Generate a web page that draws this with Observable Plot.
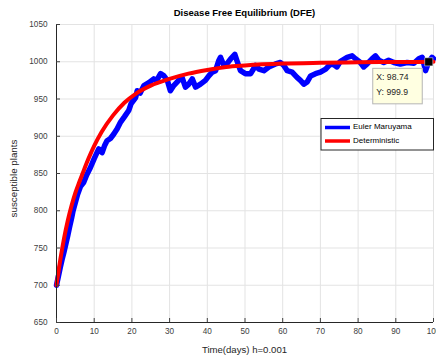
<!DOCTYPE html>
<html><head><meta charset="utf-8">
<script src="https://cdn.jsdelivr.net/npm/d3@7"></script>
<script src="https://cdn.jsdelivr.net/npm/@observablehq/plot@0.6"></script>
<style>body{margin:0;background:#fff;} #chart{width:436px;height:360px;}</style>
</head><body><div id="chart"></div>
<script>
(function () {
const title = "Disease Free Equilibrium (DFE)";
const xLabel = "Time(days) h=0.001";
const yLabel = "susceptible plants";
const seriesNames = ["Euler Maruyama", "Deterministic"];
const xTicks = [0, 10, 20, 30, 40, 50, 60, 70, 80, 90, 100];
const yTicks = [650, 700, 750, 800, 850, 900, 950, 1000, 1050];

// Euler Maruyama (stochastic) path
const emTime = [0, 0.5, 1, 1.5, 2, 2.5, 3, 3.5, 4, 4.4, 5, 5.6, 6.4, 7.2, 8, 9, 10, 11.2, 12.1, 12.8, 13.4, 14.3, 15.2, 16.1, 17, 18, 19.2, 19.8, 21, 21.4, 22.2, 23.2, 24.5, 25.8, 26.6, 27.6, 28.5, 29.4, 30.2, 31.1, 32.4, 33.3, 34.2, 35.1, 36, 36.9, 38.2, 39.5, 40.4, 41.3, 42.2, 43, 43.5, 44.4, 45.2, 46.2, 47.3, 47.9, 48.8, 50.1, 51.5, 52.8, 53.7, 55, 56.3, 58.1, 59.4, 60.3, 61.2, 62.5, 63.8, 64.7, 65.6, 66.5, 67.4, 68.7, 70, 71.4, 72.7, 73.6, 74.4, 75.2, 75.8, 77.1, 78.4, 79.3, 80.6, 81.5, 82.4, 83.7, 84.6, 85.5, 86.8, 88.1, 89.5, 91.2, 93, 94.8, 96.1, 97, 97.9, 98.74, 99.6, 100];
const emValue = [700, 712, 724, 735, 745, 756, 767, 779, 790, 800, 811, 822, 833, 838, 848, 858, 870, 883, 878, 888, 894, 897, 903, 910, 919, 926, 935, 944, 952, 961, 958, 968, 972, 977, 975, 984, 981, 975, 961, 968, 975, 979, 966, 970, 977, 966, 970, 975, 981, 986, 988, 1001, 1006, 995, 997, 1004, 1010, 1001, 988, 984, 984, 995, 990, 988, 993, 997, 999, 995, 988, 986, 979, 975, 970, 973, 981, 984, 986, 990, 997, 996, 993, 1000, 1002, 1006, 1008, 1004, 999, 993, 997, 1004, 1008, 1002, 999, 1002, 999, 997, 999, 998, 1004, 1006, 988, 999.9, 1006, 1004];

// Deterministic solution
const detTime = [0, 1, 2, 3, 4, 5, 6, 7, 8, 9, 10, 12, 15, 18, 21, 25, 30, 35, 40, 45, 50, 60, 70, 80, 90, 100];
const detValue = [700, 734, 763, 787, 807, 824, 838, 851, 864, 876, 887, 906, 928, 945, 957, 968, 977, 984, 989, 993, 995, 997.5, 998.6, 999.3, 999.7, 999.9];

// Data tip
const tipX = 98.74;
const tipY = 999.9;
const tipLines = ["X: 98.74", "Y: 999.9"];

const em = emTime.map((t, i) => ({t, v: emValue[i]}));
const det = detTime.map((t, i) => ({t, v: detValue[i]}));

const FONT = "'Liberation Sans', Arial, Helvetica, sans-serif";
const plot = Plot.plot({
  width: 436, height: 360,
  marginLeft: 56, marginRight: 3, marginTop: 24, marginBottom: 38,
  style: {fontFamily: FONT, fontSize: "8.2px", background: "#fff", overflow: "visible"},
  x: {domain: [0, 100]},
  y: {domain: [650, 1050]},
  marks: [
    Plot.gridX(xTicks, {stroke: "#e3e3e3", strokeOpacity: 1}),
    Plot.gridY(yTicks, {stroke: "#e3e3e3", strokeOpacity: 1}),
    Plot.line(em, {x: "t", y: "v", stroke: "#0000ff", strokeWidth: 5.5, strokeLinejoin: "round"}),
    Plot.line(det, {x: "t", y: "v", stroke: "#ff0000", strokeWidth: 4, curve: "monotone-x"}),
    Plot.ruleX([0], {stroke: "#262626"}),
    Plot.ruleY([650], {stroke: "#262626"}),
    Plot.axisX(xTicks, {tickSize: -4, tickPadding: 10, label: null, color: "#404040", fontSize: 8.2, tickFormat: d => String(d)}),
    Plot.axisY(yTicks, {tickSize: -4, tickPadding: 13, label: null, color: "#404040", fontSize: 8.2, tickFormat: d => String(d)}),
    Plot.dot([{t: tipX, v: tipY}], {x: "t", y: "v", symbol: "square", r: 4.6, fill: "#000", stroke: "#fff", strokeWidth: 0.5})
  ]
});

const svg = d3.select(plot);
const sx = plot.scale("x"), sy = plot.scale("y");
const xLeft = sx.apply(0), xRight = sx.apply(100);
const cx = (xLeft + xRight) / 2;

svg.append("text").attr("x", cx).attr("y", 16).attr("text-anchor", "middle")
  .attr("font-family", FONT).attr("font-weight", "bold").attr("font-size", 9.5).attr("fill", "#000").text(title);
svg.append("text").attr("x", cx).attr("y", 353).attr("text-anchor", "middle")
  .attr("font-family", FONT).attr("font-size", 9.6).attr("fill", "#262626").text(xLabel);
svg.append("text").attr("transform", `translate(16.5,178.5) rotate(-90)`).attr("text-anchor", "middle")
  .attr("font-family", FONT).attr("font-size", 9.8).attr("fill", "#262626").text(yLabel);

// data tip box
const px = sx.apply(tipX), py = sy.apply(tipY);
const tg = svg.append("g");
tg.append("rect").attr("x", px - 55.5).attr("y", py + 7).attr("width", 49.5).attr("height", 35.5)
  .attr("fill", "#ffffe1").attr("stroke", "#b5b5b5").attr("stroke-width", 1);
tipLines.forEach((s, i) => tg.append("text").attr("x", px - 52).attr("y", py + 19 + i * 14.5)
  .attr("text-anchor", "start")
  .attr("font-family", FONT).attr("font-size", 8.7).attr("fill", "#262626").text(s));

// legend
const lg = svg.append("g");
const lx = 321, ly = 118.5, lw = 112.5, lh = 31.5;
lg.append("rect").attr("x", lx).attr("y", ly).attr("width", lw).attr("height", lh)
  .attr("fill", "#fff").attr("stroke", "#262626").attr("stroke-width", 1);
const lcolors = ["#0000ff", "#ff0000"];
seriesNames.forEach((n, i) => {
  const yy = ly + 9 + i * 13.5;
  lg.append("line").attr("x1", lx + 4).attr("x2", lx + 29).attr("y1", yy).attr("y2", yy)
    .attr("stroke", lcolors[i]).attr("stroke-width", 3.5);
  lg.append("text").attr("x", lx + 32).attr("y", yy + 1.5).attr("text-anchor", "start")
    .attr("font-family", FONT).attr("font-size", 8).attr("fill", "#000").text(n);
});

document.getElementById("chart").appendChild(plot);
})();
</script>
</body></html>
